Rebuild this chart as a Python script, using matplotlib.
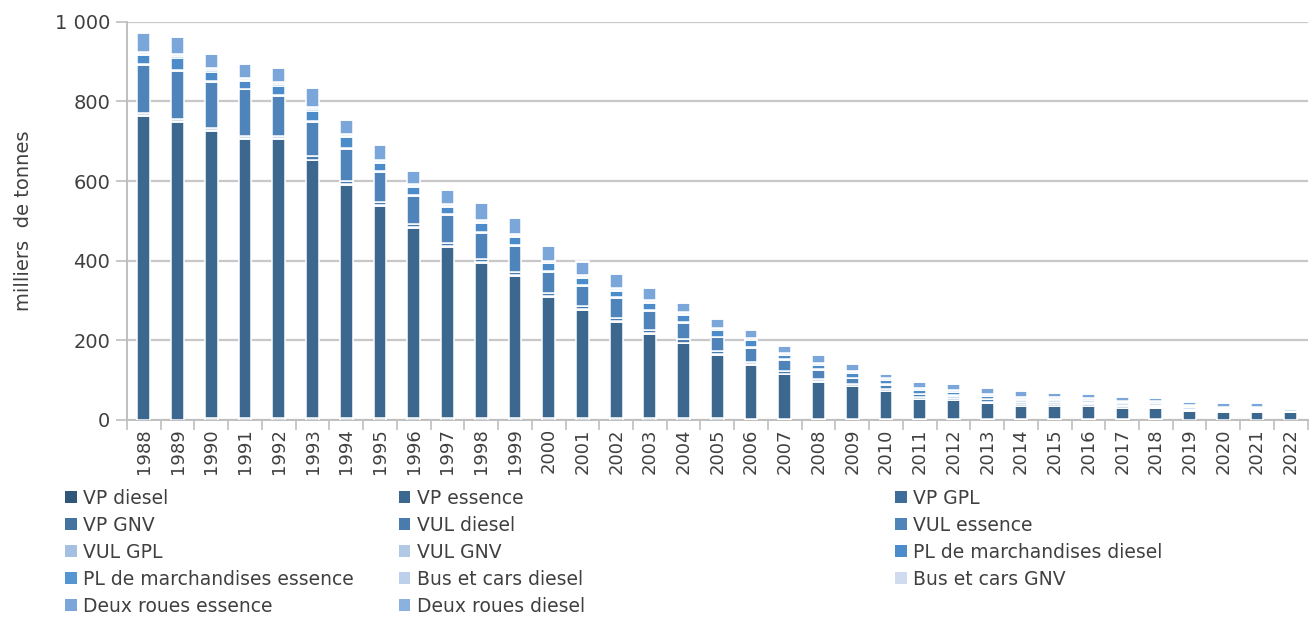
import numpy as np
from matplotlib import pyplot as plt
from matplotlib.patches import Patch
from matplotlib.ticker import FuncFormatter, MultipleLocator

# years and series (milliers de tonnes)
years = list(range(1988, 2023))

vp_diesel = [1, 1, 4, 4, 4, 4, 4, 4, 4, 4, 4, 4, 4, 4, 4, 4, 4, 4, 3, 3, 3, 3, 3, 2, 2, 2, 2, 2, 2, 2, 2, 1, 1, 1, 1]
vp_essence = [762, 747, 721, 701, 701, 648, 586, 533, 478, 430, 390, 357, 305, 272, 243, 212, 188, 159, 135, 112,
              92, 82, 69, 50, 47, 40, 33, 33, 33, 28, 28, 21, 18, 18, 18]
vp_gpl = [2, 2, 2, 2, 2, 2, 2, 2, 2, 2, 2, 2, 2, 2, 2, 2, 2, 2, 1.5, 1.5, 1.5, 1, 1, 1, 1, 1, 1, 1, 1, 1, 1,
          0.5, 0.5, 0.5, 0.5]
vp_gnv = [0, 0, 0, 0, 0, 0, 0, 0, 0, 0, 0, 0, 0, 0, 0, 0, 0, 0, 0, 0, 0, 0, 0, 0, 0, 0, 0, 0, 0, 0, 0, 0, 0, 0, 0]
vul_diesel = [6, 6, 7, 7, 7, 8, 8, 8, 8, 8, 8, 8, 8, 8, 8, 8, 8, 7, 7, 6, 5, 5, 4, 4, 4, 3, 3, 3, 3, 3, 2, 2, 2, 2, 2]
vul_essence = [121, 121, 116, 116, 100, 87, 80, 76, 70, 70, 66, 66, 52, 51, 49, 47, 42, 35, 35, 28, 24, 14, 11, 8,
               7, 6, 5, 5, 4, 3, 3, 2, 2, 2, 1]
vul_gpl = [2, 2, 2, 2, 2, 2, 2, 2, 2, 2, 2, 2, 2, 2, 2, 2, 2, 2, 2, 1.5, 1.5, 1.5, 1, 1, 1, 1, 1, 1, 1, 1, 1, 1, 1, 1, 1]
vul_gnv = [0, 0, 0, 0, 0, 0, 0, 0, 0, 0, 0, 0, 0, 0, 0, 0, 0, 0, 0, 0, 0, 0, 0, 0, 0, 0, 0, 0, 0, 0, 0, 0, 0, 0, 0]
pl_diesel = [23, 31, 23, 20, 24, 26, 28, 21, 22, 20, 22, 21, 20, 18, 16, 18, 17, 16, 17, 11, 11, 11, 10, 9, 8, 7,
             6, 6, 5, 5, 5, 4, 4, 4, 3]
pl_essence = [3, 3, 3, 3, 3, 3, 3, 3, 2, 2, 2, 2, 2, 2, 2, 2, 2, 1, 1, 1, 1, 1, 1, 1, 1, 1, 1, 1, 1, 1, 1,
              0.5, 0.5, 0.5, 0.5]
bus_diesel = [5, 5, 5, 5, 5, 5, 5, 5, 5, 5, 5, 5, 5, 5, 5, 5, 5, 5, 5, 5, 5, 5, 5, 5, 5, 5, 5, 5, 5, 4, 4, 4, 4, 4, 4]
bus_gnv = [0, 0, 0, 0, 0, 0, 0, 0, 0, 0, 0, 0, 0, 0, 0, 0, 0, 0, 0, 0, 0, 0, 0, 0, 0, 0, 0.3, 0.3, 0.3, 0.3, 0.3,
           0.3, 0.3, 0.3, 0.3]
dr_essence = [48, 43, 36, 34, 36, 49, 36, 36, 32, 35, 43, 41, 38, 32, 36, 31, 24, 23, 20, 16, 19, 17, 11, 15, 13,
              13, 15, 10, 11, 9, 7, 8, 8, 8, 4]
dr_diesel = [2, 2, 2, 2, 2, 2, 2, 2, 2, 2, 2, 2, 2, 2, 2, 2, 2, 2, 1, 1, 1, 1, 1, 1, 1, 1, 1, 1, 1, 1, 1, 1, 1, 1, 1]

series = [
    ('VP diesel', vp_diesel, '#2f5779'),
    ('VP essence', vp_essence, '#3c6890'),
    ('VP GPL', vp_gpl, '#3f6d99'),
    ('VP GNV', vp_gnv, '#4573a0'),
    ('VUL diesel', vul_diesel, '#4a7bae'),
    ('VUL essence', vul_essence, '#4f84ba'),
    ('VUL GPL', vul_gpl, '#a4bfe0'),
    ('VUL GNV', vul_gnv, '#b2c9e6'),
    ('PL de marchandises diesel', pl_diesel, '#4d8ccb'),
    ('PL de marchandises essence', pl_essence, '#5595d2'),
    ('Bus et cars diesel', bus_diesel, '#bcd0ec'),
    ('Bus et cars GNV', bus_gnv, '#cfdcf0'),
    ('Deux roues essence', dr_essence, '#7ba6da'),
    ('Deux roues diesel', dr_diesel, '#8bb1de'),
]

txt = '#404040'
fig = plt.figure(figsize=(13.09, 6.23), dpi=100)
ax = fig.add_axes([0.097, 0.326, 0.902, 0.639])

x = np.arange(len(years))
bottom = np.zeros(len(years))
handles = []
for name, vals, col in series:
    vals = np.array(vals, dtype=float)
    ax.bar(x, vals, 0.38, bottom=bottom, color=col, edgecolor='white', linewidth=1.1, zorder=3)
    bottom = bottom + vals
    handles.append(Patch(facecolor=col, edgecolor='none', label=name))

ax.set_xlim(-0.5, len(years) - 0.5)
ax.set_ylim(0, 1000)
ax.yaxis.set_major_locator(MultipleLocator(200))
ax.yaxis.set_major_formatter(FuncFormatter(lambda v, p: '{:,.0f}'.format(v).replace(',', ' ')))
ax.grid(axis='y', color='#c8c8c8', linewidth=1.6, zorder=0)
ax.set_axisbelow(True)

ax.set_xticks(x)
ax.set_xticklabels([str(y) for y in years], rotation=90, fontsize=13, color=txt)
ax.set_xticks(np.arange(-0.5, len(years)), minor=True)
ax.tick_params(axis='x', which='major', length=0, pad=6)
ax.tick_params(axis='x', which='minor', length=7, color='#bfbfbf', width=1.2)
ax.tick_params(axis='y', length=8, color='#bfbfbf', width=1.2, labelsize=14, labelcolor=txt, pad=4)

for s in ['top', 'right']:
    ax.spines[s].set_visible(False)
for s in ['left', 'bottom']:
    ax.spines[s].set_color('#bfbfbf')
    ax.spines[s].set_linewidth(1.4)

ax.set_ylabel('milliers  de tonnes', fontsize=14, color=txt, labelpad=16)

# legend laid out row-wise in three columns
col_x = [0.050, 0.305, 0.684]
for c in range(3):
    hs = handles[c::3]
    leg = fig.legend(handles=hs, loc='upper left', bbox_to_anchor=(col_x[c], 0.215), frameon=False,
                     fontsize=13.5, handlelength=0.6, handleheight=0.6, handletextpad=0.35,
                     labelspacing=0.42, borderpad=0, borderaxespad=0)
    for t in leg.get_texts():
        t.set_color(txt)

fig.savefig('out.png', dpi=100)
